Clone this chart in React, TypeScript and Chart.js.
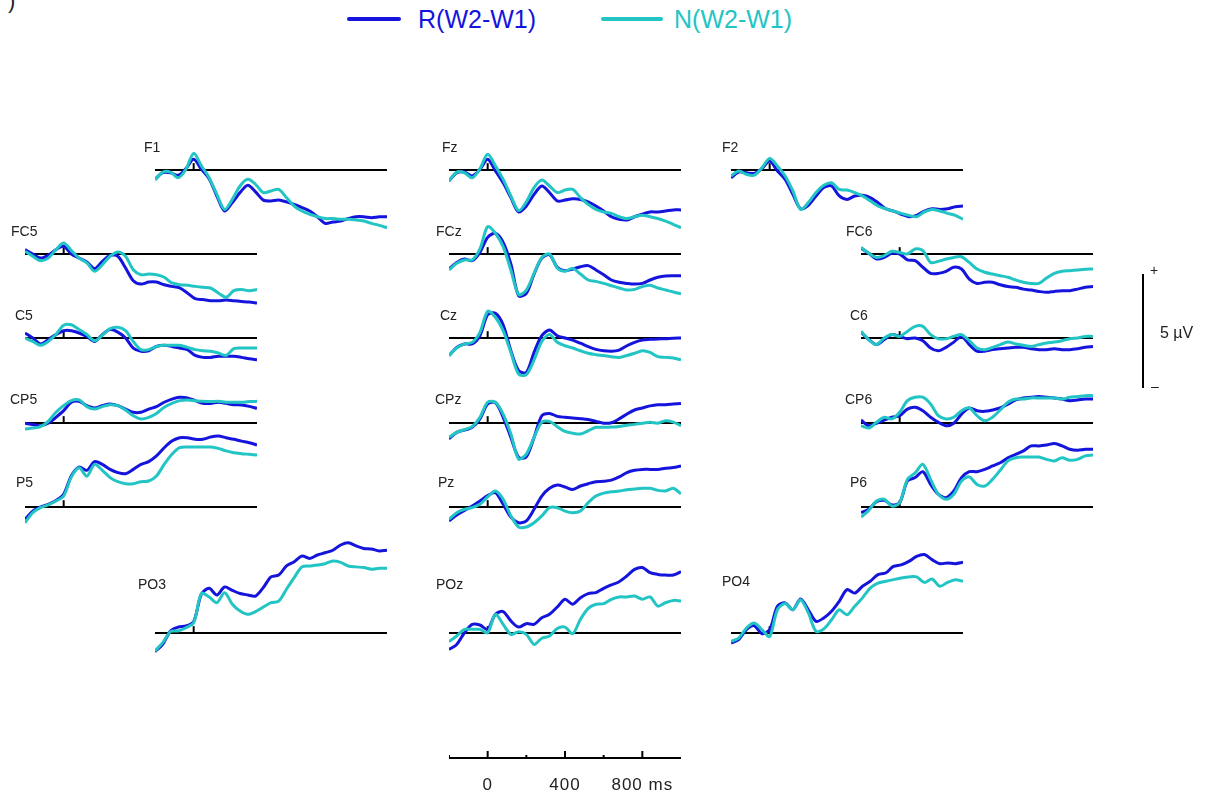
import React, { useEffect, useRef } from 'react';
import { Chart, registerables } from 'chart.js';
Chart.register(...registerables);

// time axis (ms)
const TIMES = [-200, -160, -120, -80, -40, 0, 40, 80, 120, 160, 200, 240, 280, 320, 360, 400, 440, 480, 520, 560, 600, 640, 680, 720, 760, 800, 840, 880, 920, 960, 1000];

// amplitudes in µV, R(W2-W1) and N(W2-W1)
const F1_R = [-0.41, -0.12, -0.12, -0.23, 0.06, 0.47, 0.03, -0.38, -1.14, -1.8, -1.43, -0.99, -0.67, -0.96, -1.32, -1.36, -1.32, -1.4, -1.51, -1.65, -1.8, -2.05, -2.34, -2.28, -2.24, -2.13, -2.05, -2.05, -2.09, -2.05, -2.05];
const F1_N = [-0.44, -0.09, -0.09, -0.34, 0.03, 0.73, 0.18, -0.34, -1.07, -1.73, -1.29, -0.7, -0.41, -0.63, -0.99, -0.92, -0.85, -1.21, -1.58, -1.8, -1.94, -2.05, -2.13, -2.13, -2.16, -2.16, -2.19, -2.24, -2.34, -2.43, -2.53];
const FZ_R = [-0.48, -0.12, -0.09, -0.26, 0.03, 0.47, -0.04, -0.56, -1.21, -1.84, -1.58, -1.07, -0.7, -0.99, -1.36, -1.32, -1.26, -1.29, -1.4, -1.58, -1.8, -2.05, -2.16, -2.19, -2.05, -1.94, -1.84, -1.84, -1.8, -1.75, -1.75];
const FZ_N = [-0.48, -0.09, -0.12, -0.34, 0.06, 0.69, 0.18, -0.41, -1.14, -1.78, -1.4, -0.77, -0.44, -0.7, -0.99, -0.88, -0.85, -1.21, -1.51, -1.73, -1.84, -1.9, -2.05, -2.13, -2.05, -1.99, -2.05, -2.13, -2.24, -2.38, -2.53];
const F2_R = [-0.34, -0.09, -0.12, -0.15, 0.06, 0.39, -0.04, -0.41, -1.07, -1.7, -1.55, -1.14, -0.77, -0.7, -1.14, -1.29, -1.14, -1.11, -1.21, -1.43, -1.7, -1.8, -1.94, -2.05, -1.99, -1.8, -1.7, -1.73, -1.7, -1.61, -1.58];
const F2_N = [-0.26, -0.04, -0.19, -0.23, 0.1, 0.5, 0.18, -0.26, -0.92, -1.73, -1.43, -0.99, -0.67, -0.56, -0.85, -0.88, -0.99, -1.14, -1.35, -1.58, -1.7, -1.8, -1.9, -1.99, -2.05, -1.84, -1.73, -1.8, -1.9, -1.99, -2.16];
const FC5_R = [0.19, 0, -0.18, -0.06, 0.19, 0.34, 0, -0.18, -0.35, -0.64, -0.32, -0.06, -0.1, -0.61, -1.17, -1.32, -1.23, -1.23, -1.35, -1.42, -1.49, -1.71, -1.96, -2.0, -2.05, -2.05, -2.02, -2.05, -2.08, -2.11, -2.15];
const FC5_N = [0.12, -0.1, -0.29, -0.18, 0.19, 0.48, 0.15, -0.18, -0.39, -0.76, -0.47, -0.1, 0.09, -0.1, -0.69, -0.91, -0.88, -0.91, -1.02, -1.27, -1.35, -1.37, -1.42, -1.46, -1.49, -1.71, -1.9, -1.61, -1.56, -1.61, -1.56];
const FCZ_R = [-0.66, -0.37, -0.22, -0.29, 0.07, 0.73, 0.91, 0.51, -0.44, -1.83, -1.73, -0.88, -0.18, -0.03, -0.58, -0.73, -0.66, -0.56, -0.51, -0.7, -0.91, -1.14, -1.24, -1.29, -1.32, -1.29, -1.14, -1.02, -0.96, -0.95, -0.95];
const FCZ_N = [-0.7, -0.41, -0.26, -0.26, 0.22, 1.2, 0.91, 0.32, -0.7, -1.78, -1.58, -0.85, -0.15, 0, -0.61, -0.76, -0.63, -0.88, -1.14, -1.2, -1.29, -1.39, -1.49, -1.58, -1.55, -1.43, -1.37, -1.49, -1.58, -1.67, -1.75];
const FC6_R = [0.26, 0.03, -0.22, -0.15, 0.03, 0, -0.26, -0.29, -0.58, -0.85, -0.85, -0.76, -0.58, -0.66, -1.1, -1.29, -1.24, -1.24, -1.35, -1.43, -1.46, -1.54, -1.58, -1.64, -1.68, -1.64, -1.61, -1.61, -1.54, -1.46, -1.43];
const FC6_N = [0.29, 0.03, -0.15, -0.07, 0.12, 0.07, 0, 0.22, 0.15, -0.37, -0.32, -0.22, -0.15, -0.12, -0.37, -0.66, -0.8, -0.88, -0.95, -1.02, -1.14, -1.24, -1.29, -1.29, -1.05, -0.85, -0.76, -0.73, -0.7, -0.67, -0.66];
const C5_R = [0.22, 0, -0.26, -0.07, 0.15, 0.32, 0.32, 0.22, 0.07, -0.15, 0.15, 0.37, 0.26, 0, -0.44, -0.58, -0.56, -0.37, -0.32, -0.37, -0.44, -0.51, -0.76, -0.85, -0.85, -0.8, -0.8, -0.8, -0.85, -0.91, -0.95];
const C5_N = [0, -0.15, -0.32, -0.15, 0.15, 0.56, 0.58, 0.37, 0.15, -0.12, 0.12, 0.41, 0.47, 0.32, -0.15, -0.51, -0.51, -0.37, -0.32, -0.32, -0.32, -0.41, -0.51, -0.56, -0.58, -0.66, -0.76, -0.47, -0.44, -0.44, -0.44];
const CZ_R = [-0.77, -0.41, -0.26, -0.26, 0.1, 1.02, 1.08, 0.58, -0.56, -1.43, -1.51, -0.63, 0.1, 0.35, 0.1, 0, -0.09, -0.23, -0.38, -0.5, -0.56, -0.58, -0.53, -0.34, -0.19, -0.09, -0.06, -0.04, -0.03, -0.01, 0];
const CZ_N = [-0.77, -0.44, -0.26, -0.19, 0.25, 1.17, 0.91, 0.32, -0.63, -1.58, -1.61, -0.96, -0.15, 0.15, -0.19, -0.34, -0.44, -0.56, -0.67, -0.73, -0.77, -0.82, -0.85, -0.77, -0.67, -0.56, -0.63, -0.82, -0.85, -0.88, -0.96];
const C6_R = [0.26, -0.07, -0.29, -0.07, 0.15, 0.07, -0.03, 0, -0.12, -0.44, -0.56, -0.41, -0.18, 0.07, -0.29, -0.58, -0.58, -0.51, -0.47, -0.44, -0.41, -0.41, -0.47, -0.51, -0.51, -0.47, -0.51, -0.51, -0.47, -0.41, -0.37];
const C6_N = [0.29, -0.07, -0.29, 0, 0.15, 0.07, 0.29, 0.51, 0.51, 0.15, -0.03, -0.03, 0.07, 0.15, -0.12, -0.44, -0.51, -0.41, -0.29, -0.18, -0.26, -0.32, -0.37, -0.29, -0.22, -0.18, -0.12, -0.03, 0, 0.07, 0.07];
const CP5_R = [-0.01, -0.07, -0.12, -0.01, 0.25, 0.54, 0.91, 0.95, 0.76, 0.66, 0.76, 0.83, 0.76, 0.61, 0.47, 0.47, 0.61, 0.72, 0.91, 1.05, 1.13, 1.1, 0.98, 0.86, 0.86, 0.91, 0.86, 0.8, 0.79, 0.73, 0.64];
const CP5_N = [-0.26, -0.22, -0.16, 0.07, 0.47, 0.76, 0.98, 1.01, 0.72, 0.61, 0.72, 0.8, 0.76, 0.57, 0.32, 0.18, 0.25, 0.42, 0.69, 0.86, 0.98, 1.01, 0.98, 0.95, 0.94, 0.95, 0.91, 0.91, 0.91, 0.94, 0.95];
const CPZ_R = [-0.7, -0.41, -0.31, -0.19, 0.18, 0.83, 0.89, 0.25, -0.63, -1.51, -1.48, -0.63, 0.32, 0.42, 0.29, 0.25, 0.22, 0.19, 0.15, 0.07, -0.01, 0.01, 0.18, 0.39, 0.57, 0.66, 0.75, 0.8, 0.8, 0.83, 0.86];
const CPZ_N = [-0.63, -0.41, -0.29, -0.16, 0.25, 0.91, 0.91, 0.39, -0.48, -1.58, -1.36, -0.63, 0.03, 0.07, -0.16, -0.37, -0.45, -0.48, -0.34, -0.19, -0.19, -0.18, -0.15, -0.1, -0.06, -0.01, 0.03, -0.01, 0.1, 0.04, -0.12];
const CP6_R = [0.13, -0.12, -0.01, 0.13, 0.25, 0.32, 0.61, 0.69, 0.54, 0.25, 0.03, -0.12, -0.01, 0.39, 0.66, 0.54, 0.51, 0.57, 0.66, 0.83, 1.01, 1.1, 1.13, 1.16, 1.13, 1.1, 1.05, 0.98, 1.01, 1.05, 1.05];
const CP6_N = [-0.12, -0.22, 0.03, 0.25, 0.18, 0.47, 0.98, 1.13, 1.13, 0.83, 0.32, 0.18, 0.25, 0.54, 0.66, 0.32, 0.1, 0.25, 0.57, 0.91, 1.05, 1.05, 1.1, 1.1, 1.1, 1.1, 1.05, 1.13, 1.16, 1.2, 1.2];
const P5_R = [-0.54, -0.18, 0, 0.12, 0.29, 0.56, 1.37, 1.75, 1.61, 1.99, 1.87, 1.65, 1.51, 1.46, 1.65, 1.87, 1.99, 2.24, 2.6, 2.89, 3.04, 3.04, 2.97, 2.97, 3.07, 3.11, 3.04, 2.97, 2.89, 2.82, 2.72];
const P5_N = [-0.69, -0.25, -0.03, 0.09, 0.26, 0.48, 1.32, 1.72, 1.35, 1.87, 1.61, 1.29, 1.11, 1.02, 1.02, 1.11, 1.14, 1.36, 1.87, 2.31, 2.6, 2.63, 2.63, 2.63, 2.63, 2.57, 2.46, 2.38, 2.34, 2.31, 2.28];
const PZ_R = [-0.61, -0.35, -0.15, 0.04, 0.26, 0.5, 0.63, 0.12, -0.44, -0.69, -0.61, -0.1, 0.48, 0.82, 0.96, 0.88, 0.77, 0.92, 1.02, 1.11, 1.13, 1.18, 1.32, 1.51, 1.61, 1.65, 1.65, 1.65, 1.7, 1.73, 1.8];
const PZ_N = [-0.54, -0.25, -0.1, -0.03, 0.12, 0.44, 0.7, 0.34, -0.39, -0.88, -0.88, -0.69, -0.39, -0.03, -0.03, -0.18, -0.25, -0.18, 0.19, 0.48, 0.61, 0.67, 0.7, 0.76, 0.79, 0.82, 0.82, 0.73, 0.7, 0.82, 0.58];
const P6_R = [-0.25, -0.1, 0.23, 0.29, 0.09, 0.19, 1.14, 1.29, 1.55, 0.99, 0.56, 0.41, 0.7, 1.29, 1.55, 1.55, 1.65, 1.8, 1.94, 2.16, 2.31, 2.46, 2.68, 2.68, 2.72, 2.78, 2.68, 2.53, 2.49, 2.53, 2.53];
const P6_N = [-0.44, -0.15, 0.26, 0.34, 0.04, 0.19, 1.21, 1.5, 1.87, 1.21, 0.56, 0.34, 0.56, 1.14, 1.32, 0.99, 0.92, 1.21, 1.61, 2.02, 2.16, 2.19, 2.19, 2.19, 2.09, 2.02, 2.16, 2.05, 2.09, 2.24, 2.28];
const PO3_R = [-0.82, -0.5, 0.09, 0.26, 0.31, 0.5, 1.7, 1.96, 1.67, 2.02, 1.87, 1.73, 1.67, 1.62, 1.99, 2.46, 2.54, 2.94, 3.13, 3.38, 3.27, 3.42, 3.52, 3.63, 3.86, 3.96, 3.82, 3.71, 3.68, 3.6, 3.63];
const PO3_N = [-0.79, -0.42, 0.06, 0.09, 0.23, 0.45, 1.73, 1.58, 1.33, 1.77, 1.26, 0.96, 0.82, 0.94, 1.14, 1.33, 1.4, 1.92, 2.43, 2.9, 2.94, 2.98, 3.04, 3.16, 3.1, 2.94, 2.9, 2.87, 2.8, 2.84, 2.84];
const POZ_R = [-0.72, -0.5, 0.01, 0.38, 0.35, 0.16, 0.82, 0.94, 0.53, 0.26, 0.41, 0.38, 0.67, 0.82, 1.14, 1.48, 1.26, 1.55, 1.73, 1.77, 1.96, 2.11, 2.25, 2.5, 2.79, 2.87, 2.65, 2.57, 2.54, 2.54, 2.69];
const POZ_N = [-0.38, -0.13, 0.16, 0.16, 0.16, 0.01, 0.82, 0.38, -0.06, 0.06, -0.06, -0.5, -0.23, -0.13, 0.2, 0.26, -0.03, 0.6, 1.08, 1.26, 1.29, 1.48, 1.58, 1.58, 1.62, 1.48, 1.58, 1.18, 1.33, 1.43, 1.4];
const PO4_R = [-0.44, -0.29, 0.15, 0.32, -0.03, 0.15, 1.17, 1.32, 1.02, 1.49, 1.02, 0.51, 0.66, 0.95, 1.39, 1.9, 1.75, 2.05, 2.27, 2.56, 2.63, 2.92, 2.99, 3.14, 3.36, 3.44, 3.22, 3.04, 3.07, 3.04, 3.1];
const PO4_N = [-0.37, -0.22, 0.22, 0.44, 0.15, -0.15, 1.02, 1.29, 1.02, 1.46, 0.88, 0.07, 0.18, 0.58, 1.02, 0.8, 1.17, 1.54, 1.97, 2.19, 2.27, 2.34, 2.41, 2.46, 2.46, 2.22, 2.37, 2.05, 2.22, 2.34, 2.27];

// time axis ticks
const AXIS_TICKS = [-200, 0, 200, 400, 600, 800];
const AXIS_LABELS = ['', '0', '', '400', '', '800 ms'];

const SERIES_NAMES = ['R(W2-W1)', 'N(W2-W1)'];
const BLUE = '#1414dc';
const CYAN = '#22c4c4';
const FONT = '"Liberation Sans", Arial, sans-serif';

const PX_PER_UV = 22.8;
const Y_MAX = 5;
const CANVAS_H = 190;
const PAD = 4;
const PANEL_W = 232;
const T_MIN = -200;
const T_MAX = 1000;

type PanelDef = { name: string; x0: number; base: number; r: number[]; n: number[]; lx: number; ly: number };

const PANELS: PanelDef[] = [
  { name: 'F1', x0: 155, base: 170, r: F1_R, n: F1_N, lx: 144, ly: 147 },
  { name: 'Fz', x0: 449, base: 170, r: FZ_R, n: FZ_N, lx: 442, ly: 147 },
  { name: 'F2', x0: 731, base: 170, r: F2_R, n: F2_N, lx: 722, ly: 147 },
  { name: 'FC5', x0: 25, base: 254, r: FC5_R, n: FC5_N, lx: 11, ly: 231 },
  { name: 'FCz', x0: 449, base: 254, r: FCZ_R, n: FCZ_N, lx: 436, ly: 231 },
  { name: 'FC6', x0: 861, base: 254, r: FC6_R, n: FC6_N, lx: 846, ly: 231 },
  { name: 'C5', x0: 25, base: 338, r: C5_R, n: C5_N, lx: 15, ly: 315 },
  { name: 'Cz', x0: 449, base: 338, r: CZ_R, n: CZ_N, lx: 440, ly: 315 },
  { name: 'C6', x0: 861, base: 338, r: C6_R, n: C6_N, lx: 850, ly: 315 },
  { name: 'CP5', x0: 25, base: 423, r: CP5_R, n: CP5_N, lx: 10, ly: 399 },
  { name: 'CPz', x0: 449, base: 423, r: CPZ_R, n: CPZ_N, lx: 435, ly: 399 },
  { name: 'CP6', x0: 861, base: 423, r: CP6_R, n: CP6_N, lx: 845, ly: 399 },
  { name: 'P5', x0: 25, base: 507, r: P5_R, n: P5_N, lx: 16, ly: 482 },
  { name: 'Pz', x0: 449, base: 507, r: PZ_R, n: PZ_N, lx: 438, ly: 482 },
  { name: 'P6', x0: 861, base: 507, r: P6_R, n: P6_N, lx: 850, ly: 482 },
  { name: 'PO3', x0: 155, base: 633, r: PO3_R, n: PO3_N, lx: 138, ly: 584 },
  { name: 'POz', x0: 449, base: 633, r: POZ_R, n: POZ_N, lx: 436, ly: 584 },
  { name: 'PO4', x0: 731, base: 633, r: PO4_R, n: PO4_N, lx: 722, ly: 581 },
];

const toPts = (vals: number[]) => TIMES.map((t, i) => ({ x: t, y: vals[i] }));

const baseOptions = (yMin: number, yMax: number, xMin = T_MIN, xMax = T_MAX, padX = PAD): any => ({
  animation: false,
  responsive: false,
  events: [],
  plugins: { legend: { display: false }, tooltip: { enabled: false } },
  layout: { padding: { left: padX, right: padX, top: 0, bottom: 0 } },
  scales: {
    x: { type: 'linear', min: xMin, max: xMax, display: false },
    y: { type: 'linear', min: yMin, max: yMax, display: false },
  },
});

function Panel({ p }: { p: PanelDef }) {
  const ref = useRef<HTMLCanvasElement>(null);
  useEffect(() => {
    const yMin = Y_MAX - CANVAS_H / PX_PER_UV;
    const line = { pointRadius: 0, fill: false };
    const chart = new Chart(ref.current as HTMLCanvasElement, {
      type: 'line',
      data: {
        datasets: [
          { ...line, label: SERIES_NAMES[1], data: toPts(p.n), borderColor: CYAN, borderWidth: 3, tension: 0.3 },
          { ...line, label: SERIES_NAMES[0], data: toPts(p.r), borderColor: BLUE, borderWidth: 3, tension: 0.3 },
          { ...line, data: [{ x: T_MIN, y: 0 }, { x: T_MAX, y: 0 }], borderColor: '#000', borderWidth: 2 },
          { ...line, data: [{ x: 0, y: 0 }, { x: 0, y: 0.3 }], borderColor: '#000', borderWidth: 2 },
        ],
      } as any,
      options: baseOptions(yMin, Y_MAX),
    });
    return () => chart.destroy();
  }, [p]);
  return (
    <canvas
      ref={ref}
      width={PANEL_W + 2 * PAD}
      height={CANVAS_H}
      style={{ position: 'absolute', left: p.x0 - PAD, top: p.base - Y_MAX * PX_PER_UV }}
    />
  );
}

function TimeAxis() {
  const ref = useRef<HTMLCanvasElement>(null);
  useEffect(() => {
    const tickPts: any[] = [];
    AXIS_TICKS.forEach((t, i) => {
      const h = AXIS_LABELS[i] ? 7 : 3;
      tickPts.push({ x: t, y: 0 }, { x: t, y: h }, { x: t, y: null });
    });
    const labelPlugin = {
      id: 'axisLabels',
      afterDraw(chart: any) {
        const ctx = chart.ctx;
        const xs = chart.scales.x;
        const ys = chart.scales.y;
        ctx.save();
        ctx.fillStyle = '#222';
        ctx.font = `17px ${FONT}`;
        ctx.textAlign = 'center';
        ctx.textBaseline = 'middle';
        (ctx as any).letterSpacing = '1px';
        AXIS_TICKS.forEach((t, i) => {
          if (AXIS_LABELS[i]) ctx.fillText(AXIS_LABELS[i], xs.getPixelForValue(t), ys.getPixelForValue(-27));
        });
        ctx.restore();
      },
    };
    const chart = new Chart(ref.current as HTMLCanvasElement, {
      type: 'line',
      data: {
        datasets: [
          { data: [{ x: T_MIN, y: 0 }, { x: T_MAX, y: 0 }], borderColor: '#000', borderWidth: 2, pointRadius: 0 },
          { data: tickPts, borderColor: '#000', borderWidth: 2, pointRadius: 0, spanGaps: false },
        ],
      } as any,
      options: baseOptions(-40, 20, T_MIN, T_MAX, 30),
      plugins: [labelPlugin],
    });
    return () => chart.destroy();
  }, []);
  return <canvas ref={ref} width={PANEL_W + 60} height={60} style={{ position: 'absolute', left: 449 - 30, top: 738 }} />;
}

function ScaleBar() {
  const ref = useRef<HTMLCanvasElement>(null);
  useEffect(() => {
    const top = 8;
    const h = 130;
    const yMax = 5 + top / PX_PER_UV;
    const yMin = yMax - h / PX_PER_UV;
    const chart = new Chart(ref.current as HTMLCanvasElement, {
      type: 'line',
      data: {
        datasets: [
          { data: [{ x: 0, y: 0 }, { x: 0, y: 5 }], borderColor: '#000', borderWidth: 2, pointRadius: 0 },
        ],
      } as any,
      options: baseOptions(yMin, yMax, -1, 1, 0),
    });
    return () => chart.destroy();
  }, []);
  return <canvas ref={ref} width={20} height={130} style={{ position: 'absolute', left: 1133, top: 388 - 5 * PX_PER_UV - 8 }} />;
}

export default function App() {
  const txt: React.CSSProperties = { position: 'absolute', fontFamily: FONT, whiteSpace: 'nowrap', color: '#222' };
  return (
    <div style={{ position: 'absolute', left: 0, top: 0, width: 1207, height: 798, background: '#fff', overflow: 'hidden' }}>
      <div style={{ ...txt, left: 8, top: -12, fontSize: 22 }}>)</div>
      {/* legend */}
      <div style={{ position: 'absolute', left: 347, top: 17, width: 54, height: 4, background: BLUE, borderRadius: 2 }} />
      <div style={{ ...txt, left: 418, top: 4, fontSize: 25, color: BLUE, lineHeight: '30px' }}>{SERIES_NAMES[0]}</div>
      <div style={{ position: 'absolute', left: 601, top: 17, width: 62, height: 4, background: CYAN, borderRadius: 2 }} />
      <div style={{ ...txt, left: 674, top: 4, fontSize: 25, color: CYAN, lineHeight: '30px' }}>{SERIES_NAMES[1]}</div>

      {PANELS.map((p) => (
        <Panel key={p.name} p={p} />
      ))}
      {PANELS.map((p) => (
        <div key={'l' + p.name} style={{ ...txt, left: p.lx, top: p.ly - 8, fontSize: 14, lineHeight: '16px' }}>
          {p.name}
        </div>
      ))}

      <TimeAxis />
      <ScaleBar />
      <div style={{ ...txt, left: 1150, top: 262, fontSize: 14, lineHeight: '16px' }}>+</div>
      <div style={{ ...txt, left: 1151, top: 378, fontSize: 14, lineHeight: '16px' }}>–</div>
      <div style={{ ...txt, left: 1160, top: 324, fontSize: 16, lineHeight: '18px' }}>5 µV</div>
    </div>
  );
}
